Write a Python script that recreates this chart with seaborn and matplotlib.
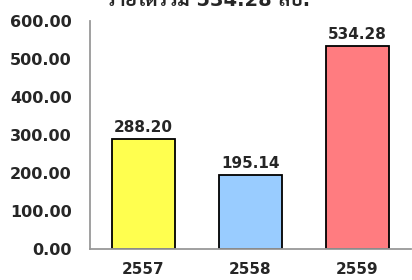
import matplotlib
matplotlib.use("Agg")
import matplotlib.pyplot as plt
from matplotlib import font_manager
import seaborn as sns
import pandas as pd

sns.set_style("white")

# pick an installed family with a bold Thai face for the title
thai_candidates = ["Noto Sans Thai", "Sarabun", "Noto Sans Thai Looped",
                   "Bai Jamjuree", "Athiti", "Anuphan"]
bold_names = {f.name for f in font_manager.fontManager.ttflist
              if isinstance(f.weight, int) and f.weight >= 700}
all_names = {f.name for f in font_manager.fontManager.ttflist}
thai_font = next((n for n in thai_candidates if n in bold_names),
                 next((n for n in thai_candidates if n in all_names), "Anuphan"))
plt.rcParams['font.family'] = ['DejaVu Sans', thai_font]

# data
years = ["2557", "2558", "2559"]
revenue = [288.20, 195.14, 534.28]
bar_colors = ["#FFFF4F", "#99CCFF", "#FF7C80"]
title_text = "รายได้รวม 534.28 ลบ."

df = pd.DataFrame({"year": years, "revenue": revenue})

fig = plt.figure(figsize=(4.12, 2.8), dpi=100)
ax = fig.add_axes([90 / 412, 1 - 249 / 280, 321 / 412, 228 / 280])

sns.barplot(data=df, x="year", y="revenue", hue="year", palette=bar_colors,
            saturation=1, width=0.58, edgecolor="black", linewidth=1.3,
            legend=False, ax=ax)

ax.set_ylim(0, 600)
ax.set_xlim(-0.5, 2.5)
ax.set_yticks(range(0, 601, 100))
ax.set_yticklabels([f"{v:.2f}" for v in range(0, 601, 100)],
                   fontsize=11.5, fontweight="bold")
ax.set_xticks(range(len(years)))
ax.set_xticklabels(years, fontsize=11, fontweight="bold")
ax.tick_params(axis="both", length=0)
ax.tick_params(axis="y", pad=13)
ax.tick_params(axis="x", pad=9)
ax.set_xlabel("")
ax.set_ylabel("")

for c in ax.containers:
    ax.bar_label(c, fmt="%.2f", padding=3, fontsize=11, fontweight="bold")

sns.despine(ax=ax)
for s in ["left", "bottom"]:
    ax.spines[s].set_color("#999999")
    ax.spines[s].set_linewidth(1.3)

fig.text(208 / 412, 1 - 5.5 / 280, title_text, ha="center", va="baseline",
         fontsize=14, fontweight="bold", family=['DejaVu Sans', thai_font])

fig.savefig("out.png", dpi=100)
